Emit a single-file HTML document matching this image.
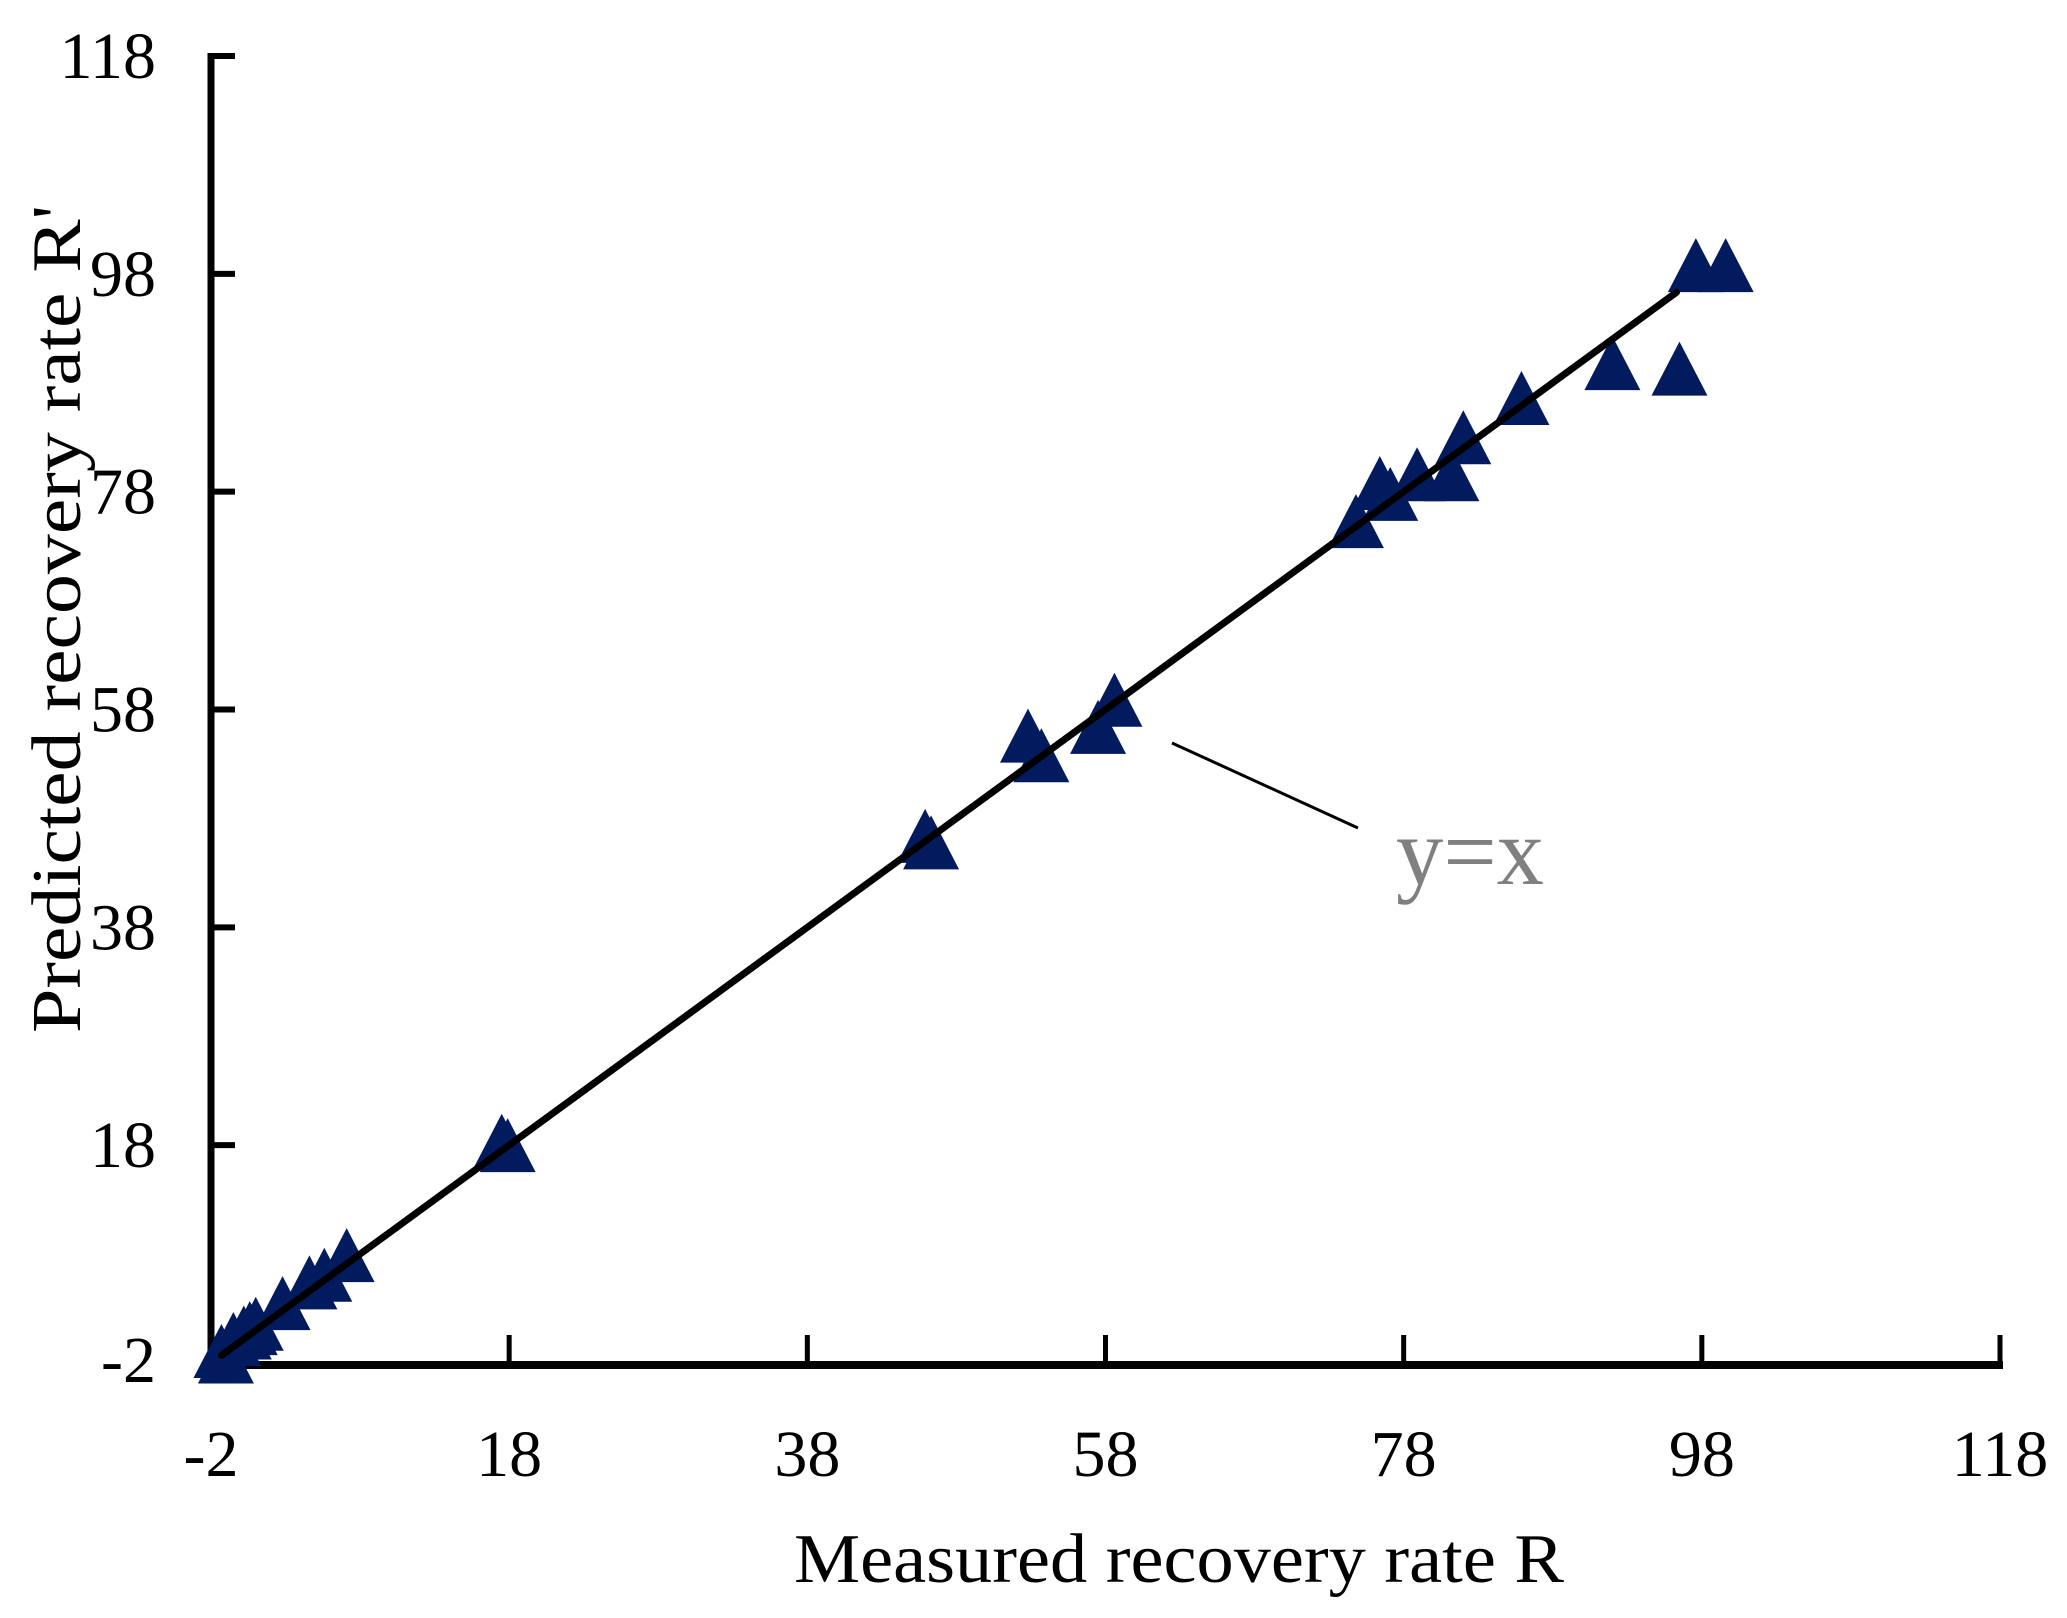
<!DOCTYPE html>
<html><head><meta charset="utf-8"><style>
html,body{margin:0;padding:0;background:#fff;}
svg{display:block;font-family:"Liberation Serif",serif;}
</style></head><body>
<svg id="chart" width="2067" height="1618" viewBox="0 0 2067 1618" xmlns="http://www.w3.org/2000/svg">
<g id="axes"></g>
<g id="marks"></g>
<line id="refline" stroke="#000" stroke-width="7" stroke-linecap="round"/>
<line x1="1172" y1="743" x2="1358" y2="828" stroke="#000" stroke-width="3"/>
<text x="1396" y="884" font-size="96" fill="#808080" textLength="148" lengthAdjust="spacingAndGlyphs">y=x</text>
<text x="1179" y="1582" font-size="70" text-anchor="middle" textLength="770" lengthAdjust="spacingAndGlyphs">Measured recovery rate R</text>
<text transform="translate(80,619) rotate(-90)" font-size="70" text-anchor="middle" textLength="828" lengthAdjust="spacingAndGlyphs">Predicted recovery rate R'</text>
</svg>
<script>
const xTicks = [-2, 18, 38, 58, 78, 98, 118];
const yTicks = [-2, 18, 38, 58, 78, 98, 118];
const measured = [97.6, 99.6, 92.0, 96.5, 85.9, 82.0, 81.2, 78.9, 76.4, 77.1, 74.8, 45.9, 46.3, 52.8, 53.7, 58.6, 57.5, 17.5, 17.9, 7.1, 5.6, 4.6, 2.8, 1.0, 0.6, 0.2, -0.5, -1.3, -1.0];
const predicted = [98.8, 98.8, 89.8, 89.3, 86.6, 83.0, 79.6, 79.6, 78.8, 77.8, 75.3, 46.4, 45.8, 55.6, 53.8, 58.9, 56.4, 18.4, 18.0, 7.9, 6.1, 5.4, 3.5, 1.6, 1.2, 0.8, 0.2, -0.9, -1.4];
const lineRange = [-1.3, 96.3];

const NS = "http://www.w3.org/2000/svg";
const X0 = 211, X1 = 2000, Y0 = 1365, Y1 = 56;
const xMin = -2, xMax = 118, yMin = -2, yMax = 118;
const yBottomPix = 1363;
function xs(v){ return X0 + (v - xMin) / (xMax - xMin) * (X1 - X0); }
function ys(v){ return yBottomPix - (v - yMin) / (yMax - yMin) * (yBottomPix - Y1); }
function mk(tag, attrs, parent){ const e = document.createElementNS(NS, tag); for (const k in attrs) e.setAttribute(k, attrs[k]); parent.appendChild(e); return e; }

const axes = document.getElementById('axes');
let l = mk('line', {x1: X0, y1: Y1 - 3, x2: X0, y2: Y0 + 4, stroke: '#000', 'stroke-width': 7}, axes);


l = mk('line', {x1: X0 - 3, y1: Y0, x2: X1 + 3, y2: Y0, stroke: '#000', 'stroke-width': 8}, axes);



xTicks.forEach(function(t){
  const x = xs(t);
  if (t !== xMin) {
    const tk = mk('line', {x1: x, y1: Y0, x2: x, y2: Y0 - 30, stroke: '#000', 'stroke-width': 5}, axes);
    
    
  }
  const tx = mk('text', {x: x, y: 1476, 'font-size': 66, 'text-anchor': 'middle'}, axes);
  tx.textContent = String(t);
  
  
});
yTicks.forEach(function(t){
  const y = ys(t);
  if (t !== yMin) {
    const tk = mk('line', {x1: X0, y1: y, x2: X0 + 24, y2: y, stroke: '#000', 'stroke-width': 6}, axes);
    
    
  }
  const tx = mk('text', {x: 156, y: (t === yMin ? 1360 : y) + 22, 'font-size': 66, 'text-anchor': 'end'}, axes);
  tx.textContent = String(t);
  
  
});

const marks = document.getElementById('marks');
measured.forEach(function(m, i){
  const cx = xs(m), cy = ys(predicted[i]);
  const w = 56, h = 54;
  const p = mk('polygon', {points: (cx) + ',' + (cy - h/2) + ' ' + (cx + w/2) + ',' + (cy + h/2) + ' ' + (cx - w/2) + ',' + (cy + h/2), fill: '#021A5E'}, marks);
  
  
});

const rl = document.getElementById('refline');
rl.setAttribute('x1', xs(lineRange[0]));
rl.setAttribute('y1', ys(lineRange[0]));
rl.setAttribute('x2', xs(lineRange[1]));
rl.setAttribute('y2', ys(lineRange[1]));
</script>
</body></html>
